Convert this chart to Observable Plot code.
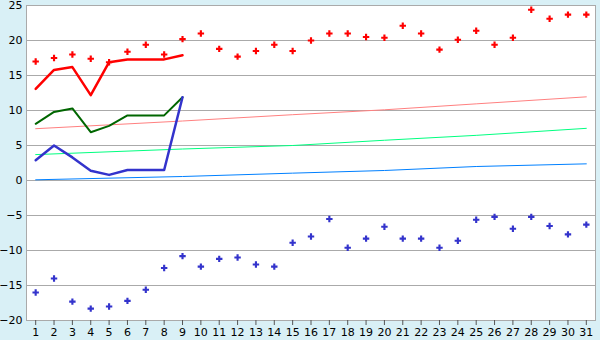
<!DOCTYPE html>
<html><head><meta charset="utf-8">
<script src="https://cdn.jsdelivr.net/npm/d3@7"></script>
<script src="https://cdn.jsdelivr.net/npm/@observablehq/plot@0.6"></script>
<style>
html,body{margin:0;padding:0;background:#d9f0f6;}
</style>
</head><body>
<div id="chart"></div>
<script>
const days = d3.range(1, 32);
const maxPoints = [17.0,17.5,18.0,17.4,16.9,18.4,19.4,18.0,20.2,21.0,18.8,17.7,18.5,19.4,18.5,20.0,21.0,21.0,20.5,20.4,22.1,21.0,18.7,20.1,21.4,19.4,20.4,24.4,23.1,23.7,23.7];
const minPoints = [-16.0,-14.0,-17.3,-18.3,-18.0,-17.2,-15.6,-12.5,-10.8,-12.3,-11.2,-11.0,-12.0,-12.3,-8.9,-8.0,-5.5,-9.6,-8.3,-6.6,-8.3,-8.3,-9.6,-8.6,-5.6,-5.2,-6.9,-5.2,-6.5,-7.7,-6.3];
const lineDays = [1,2,3,4,5,6,7,8,9];
const redLine = [13.1,15.8,16.2,12.2,16.9,17.3,17.3,17.3,17.9];
const greenLine = [8.1,9.8,10.3,6.9,7.8,9.3,9.3,9.3,11.9];
const blueLine = [2.9,5.0,3.3,1.4,0.8,1.5,1.5,1.5,11.9];
const trendDays = [1,9,15,20,25,31];
const pinkTrend = [7.4,8.5,9.4,10.1,10.95,11.95];
const greenTrend = [3.7,4.5,5.0,5.75,6.45,7.45];
const blueTrend = [0.1,0.57,1.05,1.43,2.0,2.38];
const yTicks = [-20,-15,-10,-5,0,5,10,15,20,25];

const pts = (xs, ys) => xs.map((d, i) => ({d, v: ys[i]}));

const chart = Plot.plot({
  width: 600, height: 340,
  marginLeft: 26, marginRight: 5, marginTop: 5, marginBottom: 20,
  style: {background: "#d9f0f6", fontFamily: "DejaVu Sans, Verdana, sans-serif", fontSize: "11px", color: "#000"},
  x: {type: "point", domain: days, padding: 0.5, round: false, label: null},
  y: {domain: [-20, 25], label: null},
  marks: [
    Plot.frame({fill: "white", stroke: null}),
    Plot.gridY(yTicks, {stroke: "#aaa", strokeOpacity: 1}),
    Plot.frame({stroke: "#aaa"}),
    Plot.axisY(yTicks, {tickSize: 0, tickPadding: 4, fill: "#000", fontSize: 11}),
    Plot.axisX(days, {tickSize: 5, tickPadding: 3, stroke: "#555", fill: "#000", fontSize: 11}),
    Plot.line(pts(trendDays, pinkTrend), {x: "d", y: "v", stroke: "#ff8080", strokeWidth: 1}),
    Plot.line(pts(trendDays, greenTrend), {x: "d", y: "v", stroke: "#00ff80", strokeWidth: 1}),
    Plot.line(pts(trendDays, blueTrend), {x: "d", y: "v", stroke: "#0080ff", strokeWidth: 1}),
    Plot.line(pts(lineDays, redLine), {x: "d", y: "v", stroke: "#ff0000", strokeWidth: 2.5}),
    Plot.line(pts(lineDays, greenLine), {x: "d", y: "v", stroke: "#006600", strokeWidth: 2}),
    Plot.line(pts(lineDays, blueLine), {x: "d", y: "v", stroke: "#3333cc", strokeWidth: 2.5}),
    Plot.dot(pts(days, maxPoints), {x: "d", y: "v", symbol: "cross", r: 2.7, fill: "#ff0000"}),
    Plot.dot(pts(days, minPoints), {x: "d", y: "v", symbol: "cross", r: 2.7, fill: "#3333cc"})
  ]
});
document.getElementById("chart").appendChild(chart);
</script>
</body></html>
